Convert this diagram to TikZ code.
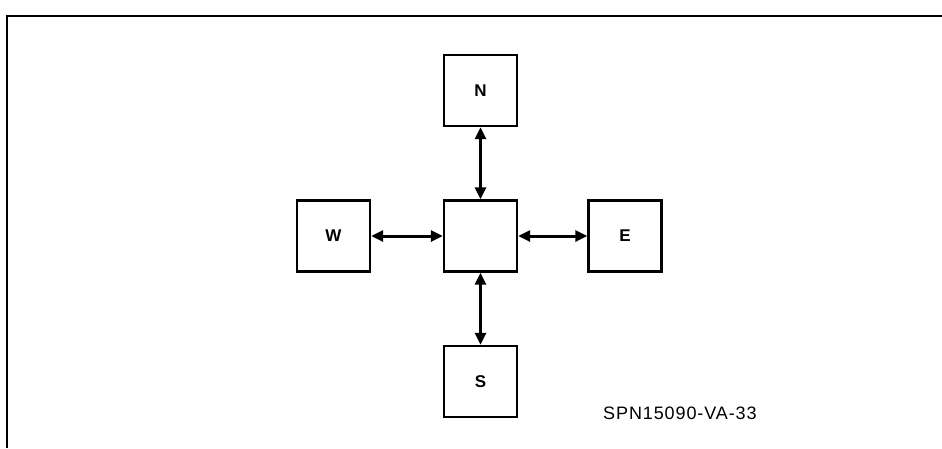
\documentclass[tikz,border=0pt]{standalone}
\usepackage{fontspec}
\setmainfont{Liberation Sans}
\usetikzlibrary{arrows.meta}
\begin{document}
\begin{tikzpicture}[x=1pt,y=-1pt,
  blk/.style={draw,line width=2.4pt,minimum width=73pt,minimum height=71pt,inner sep=0pt,font=\fontsize{17}{17}\selectfont\bfseries},
  link/.style={line width=3pt,{Triangle[length=12pt,width=11pt]}-{Triangle[length=12pt,width=11pt]}}]
\useasboundingbox (0,0) rectangle (942,448);
\fill[white] (0,0) rectangle (942,448);
\draw[line width=2.8pt] (7,448) -- (7,16) -- (942,16);
\node[blk] (c) at (480.5,236) {};
\node[blk] (n) at (480.5,90.5) {N};
\node[blk] (s) at (480.5,381.5) {S};
\node[blk] (w) at (333.5,236) {W};
\node[blk] (e) at (625,236) {E};
\draw[link] (n.south) -- (c.north);
\draw[link] (c.south) -- (s.north);
\draw[link] (w.east) -- (c.west);
\draw[link] (c.east) -- (e.west);
\node[anchor=west,inner sep=0pt,font=\fontsize{18}{18}\selectfont\addfontfeatures{LetterSpace=5}] (lbl) at (603,413.5) {SPN15090-VA-33};
\end{tikzpicture}
\end{document}
